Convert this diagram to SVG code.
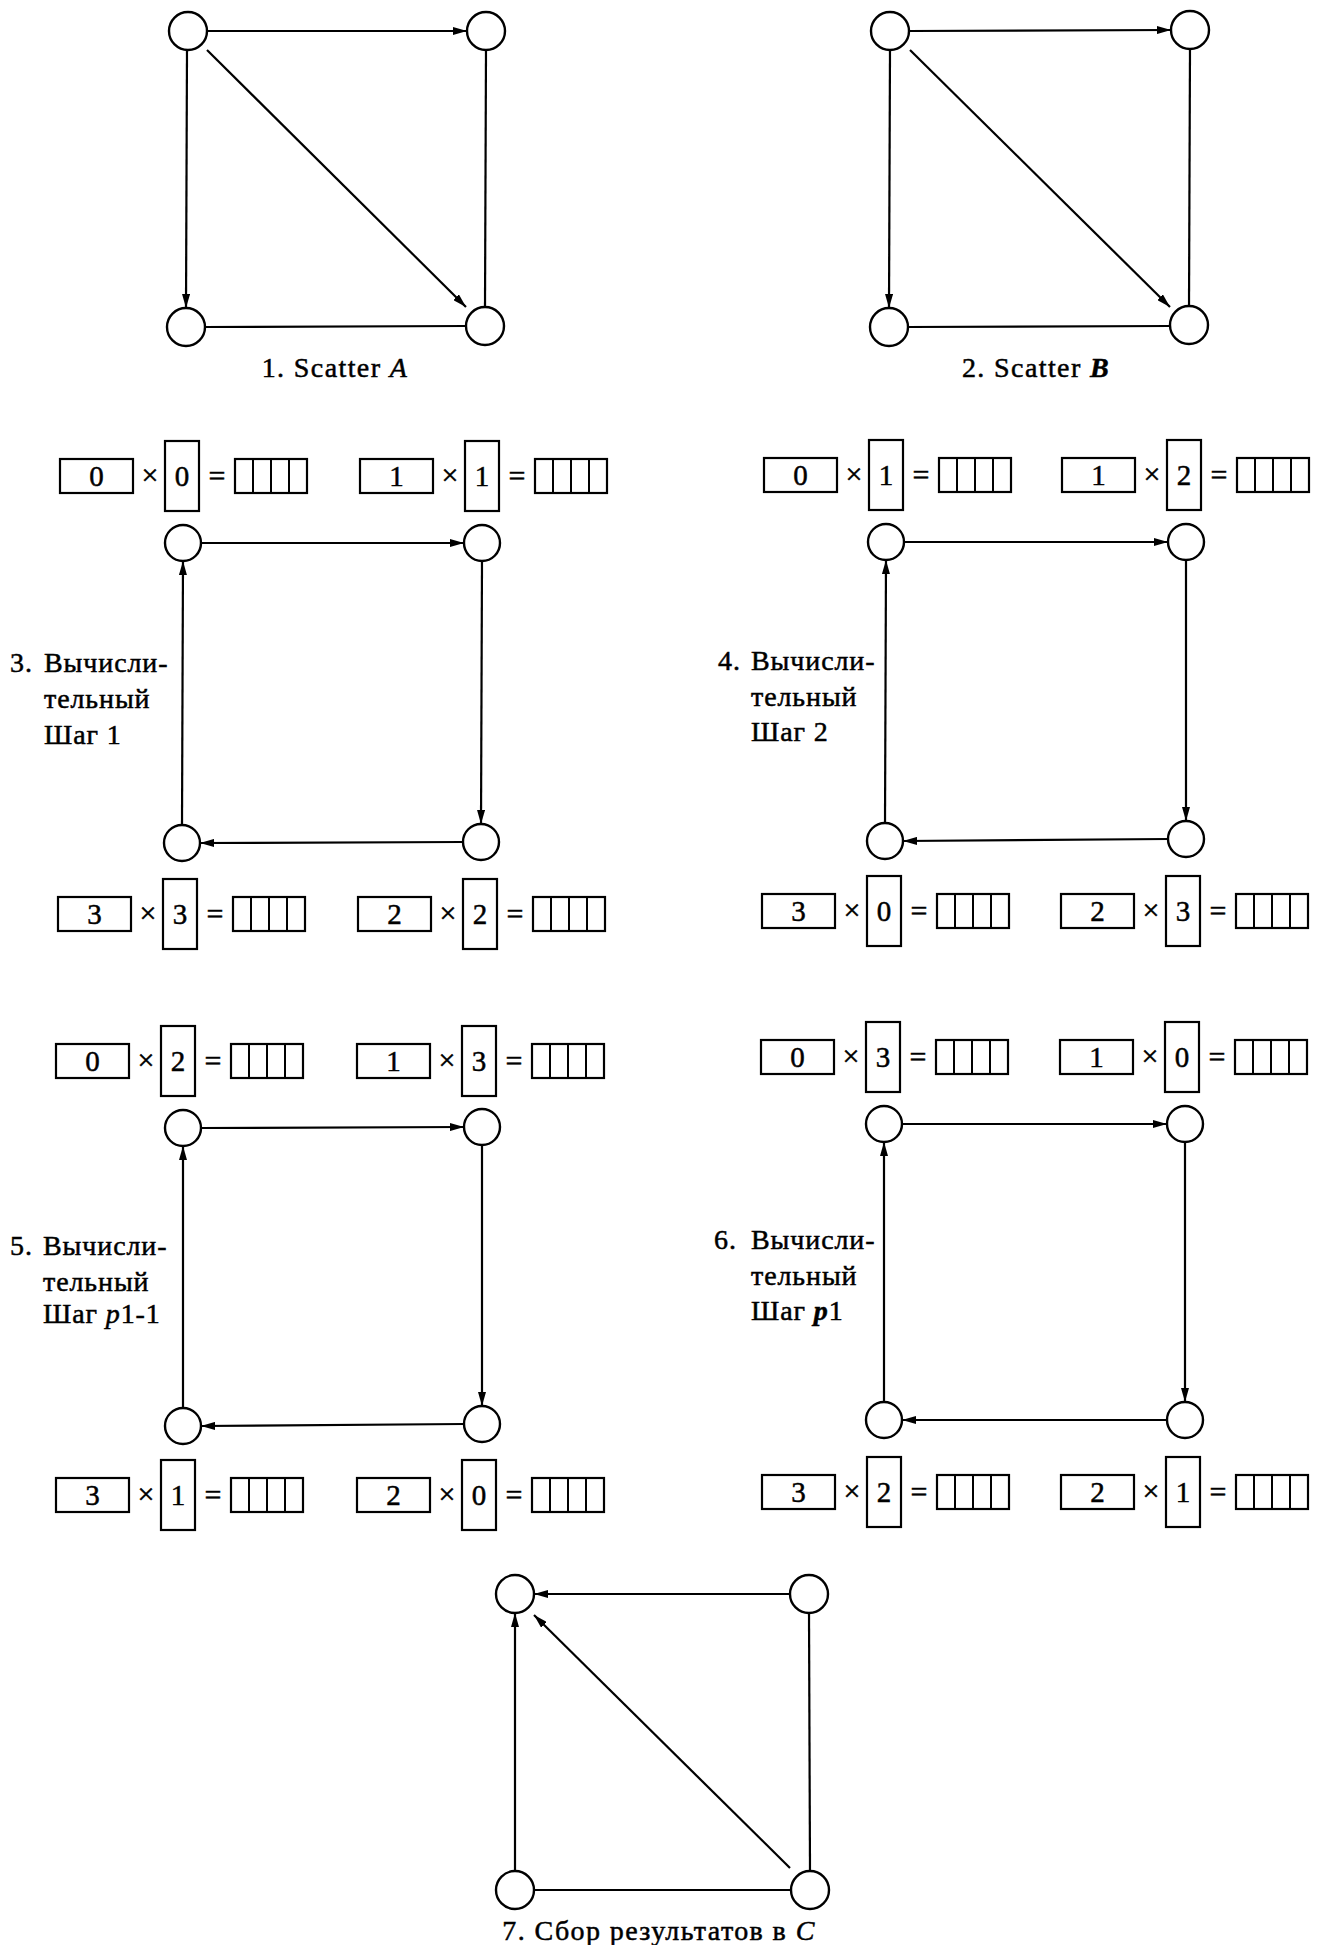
<svg xmlns="http://www.w3.org/2000/svg" width="1329" height="1945" viewBox="0 0 1329 1945">
  <style>
    .node { fill: #fff; stroke: #000; stroke-width: 2.4; }
    .edge { fill: none; stroke: #000; stroke-width: 2.2; }
    .arr { marker-end: url(#head); }
    .box { fill: #fff; stroke: #000; stroke-width: 2.2; }
    .cell { stroke: #000; stroke-width: 2; }
    .t { font-family: "Liberation Serif", "DejaVu Serif", serif; fill: #000; stroke: #000; stroke-width: 0.5; }
    .cap { font-size: 28px; letter-spacing: 1.4px; }
    .lbl { font-size: 28px; letter-spacing: 0.9px; }
    .dig { font-size: 29px; text-anchor: middle; }
    .op { font-size: 30px; text-anchor: middle; }
    .it { font-style: italic; }
  </style>
  <defs>
    <marker id="head" viewBox="0 0 14 8" refX="14" refY="4" markerWidth="14" markerHeight="8" markerUnits="userSpaceOnUse" orient="auto">
      <path d="M0,0 L14,4 L0,8 z" fill="#000"/>
    </marker>
    <!-- one "a x b = [ | | | ]" row element, digits added per use -->
    <g id="eq">
      <rect class="box" x="0" y="-17" width="73" height="34"/>
      <text class="t op" x="90" y="9">×</text>
      <rect class="box" x="105" y="-35" width="34" height="70"/>
      <text class="t op" x="157" y="10">=</text>
      <rect class="box" x="175" y="-17" width="72" height="34"/>
      <line class="cell" x1="193" y1="-17" x2="193" y2="17"/>
      <line class="cell" x1="211" y1="-17" x2="211" y2="17"/>
      <line class="cell" x1="229" y1="-17" x2="229" y2="17"/>
    </g>
  </defs>
  <rect width="1329" height="1945" fill="#fff"/>

  <!-- connectors -->
  <g id="connectors">
    <!-- 1. Scatter A -->
    <line class="edge arr" x1="207" y1="31" x2="467" y2="31"/>
    <line class="edge arr" x1="187" y1="50" x2="186" y2="308"/>
    <line class="edge arr" x1="207" y1="50" x2="466" y2="307"/>
    <line class="edge" x1="486" y1="50" x2="485" y2="307"/>
    <line class="edge" x1="205" y1="327" x2="466" y2="326"/>
    <!-- 2. Scatter B -->
    <line class="edge arr" x1="909" y1="31" x2="1171" y2="30"/>
    <line class="edge arr" x1="890" y1="50" x2="889" y2="308"/>
    <line class="edge arr" x1="910" y1="50" x2="1170" y2="307"/>
    <line class="edge" x1="1190" y1="49" x2="1189" y2="306"/>
    <line class="edge" x1="908" y1="327" x2="1170" y2="326"/>
    <!-- 3. step 1 ring -->
    <line class="edge arr" x1="201" y1="543" x2="464" y2="543"/>
    <line class="edge arr" x1="482" y1="561" x2="481" y2="824"/>
    <line class="edge arr" x1="463" y1="842" x2="200" y2="843"/>
    <line class="edge arr" x1="182" y1="825" x2="183" y2="561"/>
    <!-- 4. step 2 ring -->
    <line class="edge arr" x1="904" y1="542" x2="1168" y2="542"/>
    <line class="edge arr" x1="1186" y1="560" x2="1186" y2="821"/>
    <line class="edge arr" x1="1168" y1="839" x2="903" y2="841"/>
    <line class="edge arr" x1="885" y1="823" x2="886" y2="560"/>
    <!-- 5. step p1-1 ring -->
    <line class="edge arr" x1="201" y1="1128" x2="464" y2="1127"/>
    <line class="edge arr" x1="482" y1="1145" x2="482" y2="1406"/>
    <line class="edge arr" x1="464" y1="1424" x2="201" y2="1426"/>
    <line class="edge arr" x1="183" y1="1408" x2="183" y2="1146"/>
    <!-- 6. step p1 ring -->
    <line class="edge arr" x1="902" y1="1124" x2="1167" y2="1124"/>
    <line class="edge arr" x1="1185" y1="1142" x2="1185" y2="1402"/>
    <line class="edge arr" x1="1167" y1="1420" x2="902" y2="1420"/>
    <line class="edge arr" x1="884" y1="1402" x2="884" y2="1142"/>
    <!-- 7. gather C -->
    <line class="edge arr" x1="790" y1="1594" x2="534" y2="1594"/>
    <line class="edge arr" x1="515" y1="1871" x2="515" y2="1613"/>
    <line class="edge arr" x1="790" y1="1868" x2="534" y2="1615"/>
    <line class="edge" x1="809" y1="1613" x2="810" y2="1871"/>
    <line class="edge" x1="534" y1="1890" x2="791" y2="1890"/>
  </g>

  <!-- 1. Scatter A -->
  <g id="a-p0"><circle class="node" cx="188" cy="31" r="19"/></g>
  <g id="a-p1"><circle class="node" cx="486" cy="31" r="19"/></g>
  <g id="a-p2"><circle class="node" cx="186" cy="327" r="19"/></g>
  <g id="a-p3"><circle class="node" cx="485" cy="326" r="19"/></g>
  <text class="t cap" x="335" y="377" text-anchor="middle">1. Scatter <tspan class="it">A</tspan></text>

  <!-- 2. Scatter B -->
  <g id="b-p0"><circle class="node" cx="890" cy="31" r="19"/></g>
  <g id="b-p1"><circle class="node" cx="1190" cy="30" r="19"/></g>
  <g id="b-p2"><circle class="node" cx="889" cy="327" r="19"/></g>
  <g id="b-p3"><circle class="node" cx="1189" cy="325" r="19"/></g>
  <text class="t cap" x="1036" y="377" text-anchor="middle">2. Scatter <tspan class="it" font-weight="bold">B</tspan></text>

  <!-- 3. computational step 1 -->
  <g id="s1-p0"><circle class="node" cx="183" cy="543" r="18"/></g>
  <g id="s1-p1"><circle class="node" cx="482" cy="543" r="18"/></g>
  <g id="s1-p2"><circle class="node" cx="182" cy="843" r="18"/></g>
  <g id="s1-p3"><circle class="node" cx="481" cy="842" r="18"/></g>
  <g id="s1-eq0" transform="translate(60,476)"><use href="#eq"/><text class="t dig" x="36.5" y="10">0</text><text class="t dig" x="122" y="10">0</text></g>
  <g id="s1-eq1" transform="translate(360,476)"><use href="#eq"/><text class="t dig" x="36.5" y="10">1</text><text class="t dig" x="122" y="10">1</text></g>
  <g id="s1-eq3" transform="translate(58,914)"><use href="#eq"/><text class="t dig" x="36.5" y="10">3</text><text class="t dig" x="122" y="10">3</text></g>
  <g id="s1-eq2" transform="translate(358,914)"><use href="#eq"/><text class="t dig" x="36.5" y="10">2</text><text class="t dig" x="122" y="10">2</text></g>
  <text class="t lbl"><tspan x="10" y="672">3.</tspan><tspan x="44" y="672">Вычисли-</tspan><tspan x="44" y="708">тельный</tspan><tspan x="44" y="744">Шаг 1</tspan></text>

  <!-- 4. computational step 2 -->
  <g id="s2-p0"><circle class="node" cx="886" cy="542" r="18"/></g>
  <g id="s2-p1"><circle class="node" cx="1186" cy="542" r="18"/></g>
  <g id="s2-p2"><circle class="node" cx="885" cy="841" r="18"/></g>
  <g id="s2-p3"><circle class="node" cx="1186" cy="839" r="18"/></g>
  <g id="s2-eq0" transform="translate(764,475)"><use href="#eq"/><text class="t dig" x="36.5" y="10">0</text><text class="t dig" x="122" y="10">1</text></g>
  <g id="s2-eq1" transform="translate(1062,475)"><use href="#eq"/><text class="t dig" x="36.5" y="10">1</text><text class="t dig" x="122" y="10">2</text></g>
  <g id="s2-eq3" transform="translate(762,911)"><use href="#eq"/><text class="t dig" x="36.5" y="10">3</text><text class="t dig" x="122" y="10">0</text></g>
  <g id="s2-eq2" transform="translate(1061,911)"><use href="#eq"/><text class="t dig" x="36.5" y="10">2</text><text class="t dig" x="122" y="10">3</text></g>
  <text class="t lbl"><tspan x="718" y="670">4.</tspan><tspan x="751" y="670">Вычисли-</tspan><tspan x="751" y="706">тельный</tspan><tspan x="751" y="741">Шаг 2</tspan></text>

  <!-- 5. computational step p1-1 -->
  <g id="s3-p0"><circle class="node" cx="183" cy="1128" r="18"/></g>
  <g id="s3-p1"><circle class="node" cx="482" cy="1127" r="18"/></g>
  <g id="s3-p2"><circle class="node" cx="183" cy="1426" r="18"/></g>
  <g id="s3-p3"><circle class="node" cx="482" cy="1424" r="18"/></g>
  <g id="s3-eq0" transform="translate(56,1061)"><use href="#eq"/><text class="t dig" x="36.5" y="10">0</text><text class="t dig" x="122" y="10">2</text></g>
  <g id="s3-eq1" transform="translate(357,1061)"><use href="#eq"/><text class="t dig" x="36.5" y="10">1</text><text class="t dig" x="122" y="10">3</text></g>
  <g id="s3-eq3" transform="translate(56,1495)"><use href="#eq"/><text class="t dig" x="36.5" y="10">3</text><text class="t dig" x="122" y="10">1</text></g>
  <g id="s3-eq2" transform="translate(357,1495)"><use href="#eq"/><text class="t dig" x="36.5" y="10">2</text><text class="t dig" x="122" y="10">0</text></g>
  <text class="t lbl"><tspan x="10" y="1255">5.</tspan><tspan x="43" y="1255">Вычисли-</tspan><tspan x="43" y="1291">тельный</tspan><tspan x="43" y="1323">Шаг <tspan class="it">p</tspan>1-1</tspan></text>

  <!-- 6. computational step p1 -->
  <g id="s4-p0"><circle class="node" cx="884" cy="1124" r="18"/></g>
  <g id="s4-p1"><circle class="node" cx="1185" cy="1124" r="18"/></g>
  <g id="s4-p2"><circle class="node" cx="884" cy="1420" r="18"/></g>
  <g id="s4-p3"><circle class="node" cx="1185" cy="1420" r="18"/></g>
  <g id="s4-eq0" transform="translate(761,1057)"><use href="#eq"/><text class="t dig" x="36.5" y="10">0</text><text class="t dig" x="122" y="10">3</text></g>
  <g id="s4-eq1" transform="translate(1060,1057)"><use href="#eq"/><text class="t dig" x="36.5" y="10">1</text><text class="t dig" x="122" y="10">0</text></g>
  <g id="s4-eq3" transform="translate(762,1492)"><use href="#eq"/><text class="t dig" x="36.5" y="10">3</text><text class="t dig" x="122" y="10">2</text></g>
  <g id="s4-eq2" transform="translate(1061,1492)"><use href="#eq"/><text class="t dig" x="36.5" y="10">2</text><text class="t dig" x="122" y="10">1</text></g>
  <text class="t lbl"><tspan x="714" y="1249">6.</tspan><tspan x="751" y="1249">Вычисли-</tspan><tspan x="751" y="1285">тельный</tspan><tspan x="751" y="1320">Шаг <tspan class="it" font-weight="bold">p</tspan>1</tspan></text>

  <!-- 7. gather into C -->
  <g id="c-p0"><circle class="node" cx="515" cy="1594" r="19"/></g>
  <g id="c-p1"><circle class="node" cx="809" cy="1594" r="19"/></g>
  <g id="c-p2"><circle class="node" cx="515" cy="1890" r="19"/></g>
  <g id="c-p3"><circle class="node" cx="810" cy="1890" r="19"/></g>
  <text class="t cap" x="659" y="1940" text-anchor="middle">7. Сбор результатов в <tspan class="it">C</tspan></text>
</svg>
